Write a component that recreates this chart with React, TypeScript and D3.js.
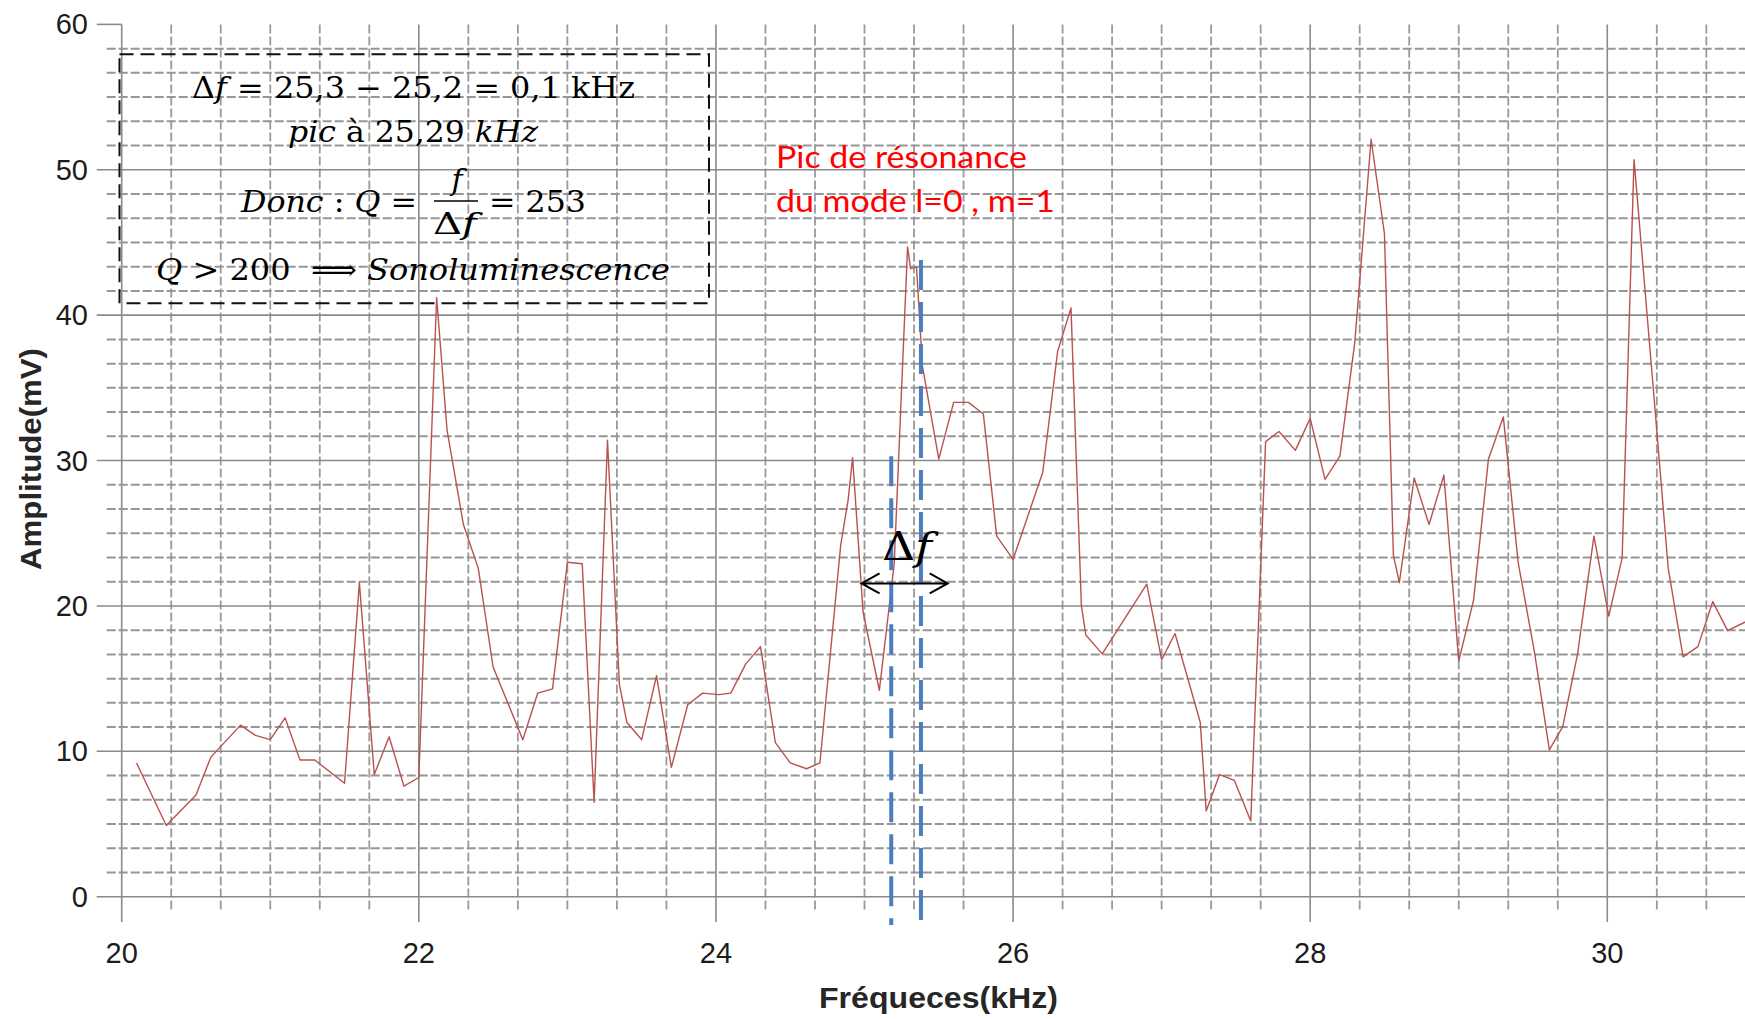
import React, {useEffect, useRef} from 'react';
import * as d3 from 'd3';

// trace vertices: frequency in kHz, amplitude in mV
const frequencies = [
  20.1, 20.3, 20.5, 20.6, 20.8, 20.9, 21.0, 21.1, 21.2, 21.3, 21.5, 21.6, 21.7,
  21.8, 21.9, 22.0, 22.12, 22.19, 22.3, 22.4, 22.5, 22.7, 22.8, 22.9, 23.0,
  23.1, 23.18, 23.27, 23.35, 23.4, 23.5, 23.6, 23.7, 23.81, 23.91, 24.02, 24.1,
  24.2, 24.3, 24.4, 24.5, 24.61, 24.7, 24.84, 24.89, 24.92, 24.99, 25.1, 25.2,
  25.29, 25.31, 25.35, 25.39, 25.5, 25.6, 25.7, 25.8, 25.89, 26.0, 26.2, 26.3,
  26.39, 26.46, 26.49, 26.6, 26.9, 27.0, 27.09, 27.26, 27.3, 27.39, 27.49,
  27.6, 27.7, 27.79, 27.9, 28.0, 28.1, 28.2, 28.3, 28.41, 28.5, 28.56, 28.6,
  28.7, 28.8, 28.9, 29.0, 29.1, 29.2, 29.3, 29.4, 29.51, 29.61, 29.7, 29.8,
  29.91, 30.01, 30.1, 30.18, 30.31, 30.41, 30.51, 30.61, 30.71, 30.81, 30.93,
];
const amplitudes = [
  9.2, 4.9, 7.0, 9.6, 11.8, 11.1, 10.8, 12.3, 9.4, 9.4, 7.8, 21.6, 8.4,
  11.0, 7.6, 8.2, 41.2, 32.1, 25.6, 22.6, 15.8, 10.8, 14.0, 14.3, 23.0,
  22.9, 6.5, 31.4, 14.6, 12.0, 10.8, 15.2, 8.9, 13.2, 14.0, 13.9, 14.0,
  16.0, 17.2, 10.6, 9.2, 8.8, 9.2, 24.2, 27.3, 30.2, 19.6, 14.2, 22.9,
  44.7, 43.2, 43.3, 36.5, 30.1, 34.0, 34.0, 33.2, 24.8, 23.2, 29.2, 37.5,
  40.5, 20.0, 18.0, 16.7, 21.5, 16.3, 18.1, 12.0, 5.9, 8.4, 8.0,
  5.2, 31.3, 32.0, 30.7, 32.9, 28.7, 30.3, 38.1, 52.1, 45.6, 23.5, 21.6,
  28.8, 25.6, 29.0, 16.2, 20.4, 30.1, 33.0, 23.0, 16.8, 10.1, 11.7, 16.7,
  24.8, 19.3, 23.3, 50.7, 34.9, 22.6, 16.5, 17.2, 20.3, 18.3, 18.9,
];

const xTicks = [20, 22, 24, 26, 28, 30];
const yTicks = [0, 10, 20, 30, 40, 50, 60];

// bounds of the band read for Δf (kHz) and the height their markers reach (mV)
const deltaBounds = [25.18, 25.38];
const deltaTops = [30.3, 43.8];

const W = 1745;
const H = 1019;

const App = () => {
  const ref = useRef<SVGSVGElement>(null);

  useEffect(() => {
    const svg = d3.select(ref.current);
    svg.selectAll('*').remove();

    const x = d3.scaleLinear().domain([20, 30]).range([121.7, 1607.3]);
    const y = d3.scaleLinear().domain([0, 60]).range([896.7, 24.4]);

    // grid: vertical every 1/3 kHz, horizontal every 10/6 mV
    const grid = svg.append('g');
    d3.range(0, 34).forEach(k => {
      const major = k % 6 === 0;
      grid
        .append('line')
        .attr('x1', x(20 + k / 3))
        .attr('x2', x(20 + k / 3))
        .attr('y1', y(60))
        .attr('y2', major ? 922 : 912)
        .attr('stroke', major ? '#8a8a8a' : '#9a9a9a')
        .attr('stroke-width', major ? 1.6 : 1.8)
        .attr('stroke-dasharray', major ? null : '9,3');
    });
    d3.range(0, 36).forEach(k => {
      const major = k % 6 === 0;
      grid
        .append('line')
        .attr('x1', major ? 96.7 : 106.7)
        .attr('x2', W)
        .attr('y1', y((k * 10) / 6))
        .attr('y2', y((k * 10) / 6))
        .attr('stroke', major ? '#8a8a8a' : '#969696')
        .attr('stroke-width', major ? 1.6 : 2)
        .attr('stroke-dasharray', major ? null : '9,3');
    });
    grid
      .append('line')
      .attr('x1', 96.7)
      .attr('x2', x(20))
      .attr('y1', y(60))
      .attr('y2', y(60))
      .attr('stroke', '#8a8a8a')
      .attr('stroke-width', 1.6);

    // tick labels
    svg
      .append('g')
      .selectAll('text')
      .data(yTicks)
      .enter()
      .append('text')
      .attr('x', 88)
      .attr('y', d => y(d))
      .attr('dominant-baseline', 'central')
      .attr('text-anchor', 'end')
      .attr('font-family', '"Liberation Sans", Arial, sans-serif')
      .attr('font-size', 29)
      .attr('fill', '#1c1c1c')
      .text(d => d);
    svg
      .append('g')
      .selectAll('text')
      .data(xTicks)
      .enter()
      .append('text')
      .attr('x', d => x(d))
      .attr('y', 963)
      .attr('text-anchor', 'middle')
      .attr('font-family', '"Liberation Sans", Arial, sans-serif')
      .attr('font-size', 29)
      .attr('fill', '#1c1c1c')
      .text(d => d);

    // axis titles
    svg
      .append('text')
      .attr('x', 938.5)
      .attr('y', 1008)
      .attr('text-anchor', 'middle')
      .attr('font-family', '"Liberation Sans", Arial, sans-serif')
      .attr('font-weight', 'bold')
      .attr('font-size', 30)
      .attr('fill', '#262626')
      .attr('textLength', 239)
      .attr('lengthAdjust', 'spacingAndGlyphs')
      .text('Fréqueces(kHz)');
    svg
      .append('text')
      .attr('transform', 'translate(41,459) rotate(-90)')
      .attr('text-anchor', 'middle')
      .attr('font-family', '"Liberation Sans", Arial, sans-serif')
      .attr('font-weight', 'bold')
      .attr('font-size', 30)
      .attr('fill', '#262626')
      .attr('textLength', 222)
      .attr('lengthAdjust', 'spacingAndGlyphs')
      .text('Amplitude(mV)');

    // the trace
    const line = d3
      .line<number>()
      .x((_, i) => x(frequencies[i]))
      .y(d => y(d));
    svg
      .append('path')
      .datum(amplitudes)
      .attr('d', line)
      .attr('fill', 'none')
      .attr('stroke', '#b9524f')
      .attr('stroke-width', 1.4)
      .attr('stroke-linejoin', 'round');

    // Δf markers
    deltaBounds.forEach((f, i) => {
      svg
        .append('line')
        .attr('x1', x(f))
        .attr('x2', x(f))
        .attr('y1', y(deltaTops[i]))
        .attr('y2', 925)
        .attr('stroke', '#4a7ebf')
        .attr('stroke-width', 4)
        .attr('stroke-dasharray', '30,12');
    });

    // double arrow
    const ax1 = x(24.98);
    const ax2 = x(25.56);
    const ay = y(21.55);
    svg
      .append('path')
      .attr(
        'd',
        `M${ax1},${ay}H${ax2}` +
          `M${ax1 + 18},${ay - 10}L${ax1},${ay}L${ax1 + 18},${ay + 10}` +
          `M${ax2 - 18},${ay - 10}L${ax2},${ay}L${ax2 - 18},${ay + 10}`
      )
      .attr('fill', 'none')
      .attr('stroke', '#000')
      .attr('stroke-width', 2);
    const df = svg
      .append('text')
      .attr('x', 907)
      .attr('y', 560)
      .attr('text-anchor', 'middle')
      .attr('font-family', '"DejaVu Serif", serif')
      .attr('font-size', 40)
      .attr('textLength', 50)
      .attr('lengthAdjust', 'spacingAndGlyphs');
    df.append('tspan').text('Δ');
    df.append('tspan').attr('font-style', 'italic').text('f');

    // red note
    const note = svg
      .append('g')
      .attr('font-family', 'Lato, "Open Sans", sans-serif')
      .attr('font-size', 30)
      .attr('fill', '#ff0000');
    note
      .append('text')
      .attr('x', 776)
      .attr('y', 168.3)
      .attr('textLength', 251)
      .attr('lengthAdjust', 'spacingAndGlyphs')
      .text('Pic de résonance');
    note
      .append('text')
      .attr('x', 776)
      .attr('y', 211.7)
      .attr('textLength', 279)
      .attr('lengthAdjust', 'spacingAndGlyphs')
      .text('du mode l=0 , m=1');

    // dashed box with the Q computation
    svg
      .append('rect')
      .attr('x', 119.5)
      .attr('y', 54.3)
      .attr('width', 589.5)
      .attr('height', 249)
      .attr('fill', 'none')
      .attr('stroke', '#111')
      .attr('stroke-width', 2)
      .attr('stroke-dasharray', '14,7');

    const box = svg
      .append('g')
      .attr('font-family', '"DejaVu Serif", "Liberation Serif", serif')
      .attr('font-size', 30)
      .attr('fill', '#000');
    const nb = '\u00A0';
    const mathLine = (
      px: number,
      py: number,
      len: number,
      parts: [string, boolean][]
    ) => {
      const t = box
        .append('text')
        .attr('x', px)
        .attr('y', py)
        .attr('textLength', len)
        .attr('lengthAdjust', 'spacingAndGlyphs');
      parts.forEach(([s, it]) =>
        t
          .append('tspan')
          .attr('font-style', it ? 'italic' : 'normal')
          .text(s)
      );
    };
    mathLine(192, 98.3, 443, [
      ['Δ', false],
      ['f', true],
      [`${nb}=${nb}25,3${nb}−${nb}25,2${nb}=${nb}0,1${nb}kHz`, false],
    ]);
    mathLine(288, 141.7, 250, [
      ['pic', true],
      [`${nb}à${nb}25,29${nb}`, false],
      ['kHz', true],
    ]);
    mathLine(241, 212.3, 176, [
      ['Donc', true],
      [`${nb}:${nb}`, false],
      ['Q', true],
      [`${nb}=`, false],
    ]);
    mathLine(489, 212.3, 97, [[`=${nb}253`, false]]);
    // fraction f / Δf
    box
      .append('text')
      .attr('x', 457)
      .attr('y', 190)
      .attr('text-anchor', 'middle')
      .attr('font-style', 'italic')
      .text('f');
    const den = box
      .append('text')
      .attr('x', 455)
      .attr('y', 234)
      .attr('text-anchor', 'middle')
      .attr('textLength', 44)
      .attr('lengthAdjust', 'spacingAndGlyphs');
    den.append('tspan').text('Δ');
    den.append('tspan').attr('font-style', 'italic').text('f');
    box
      .append('line')
      .attr('x1', 434)
      .attr('x2', 478)
      .attr('y1', 201)
      .attr('y2', 201)
      .attr('stroke', '#000')
      .attr('stroke-width', 1.6);
    mathLine(156, 280, 514, [
      ['Q', true],
      [`${nb}>${nb}200${nb}${nb}⟹${nb}`, false],
      ['Sonoluminescence', true],
    ]);
  }, []);

  return (
    <>
      <style>{'body{margin:0;background:#fff}'}</style>
      <svg
        ref={ref}
        width={W}
        height={H}
        style={{display: 'block', overflow: 'hidden', background: '#fff'}}
      />
    </>
  );
};

export default App;
